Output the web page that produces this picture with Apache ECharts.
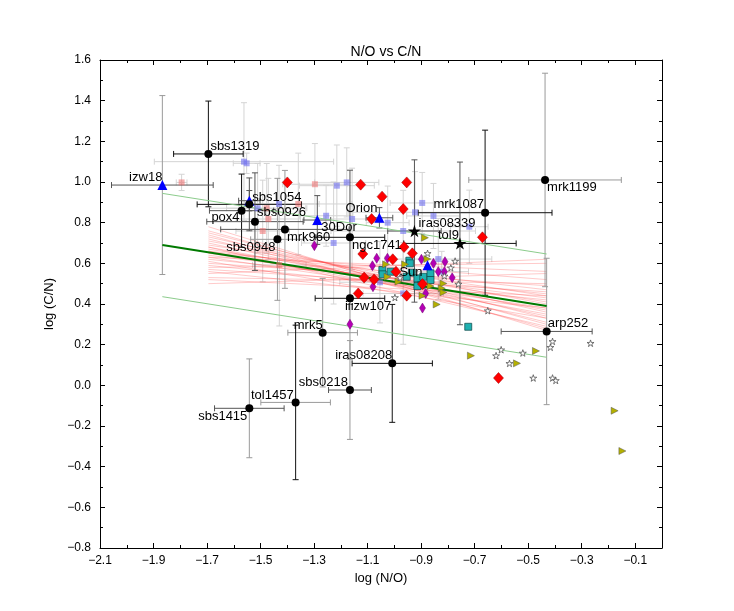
<!DOCTYPE html>
<html>
<head>
<meta charset="utf-8">
<title>N/O vs C/N</title>
<script src="https://cdn.jsdelivr.net/npm/echarts@6/dist/echarts.min.js"></script>
<style>
    html, body { margin: 0; padding: 0; background: #fff; }
    #chart { width: 734px; height: 611px; }
</style>
</head>
<body>
<div id="chart"></div>
<script>
// axis ticks
var xTicks = [-2.1, -1.9, -1.7, -1.5, -1.3, -1.1, -0.9, -0.7, -0.5, -0.3, -0.1];
var xMax = 0.0;
var yTicks = [-0.8, -0.6, -0.4, -0.2, 0.0, 0.2, 0.4, 0.6, 0.8, 1.0, 1.2, 1.4, 1.6];

// named galaxies (black dots)
var galName = ['sbs1319', 'sbs1054', 'pox4', 'sbs0926', 'mrk960', 'sbs0948', 'ngc1741', 'iiizw107',
    'mrk5', 'iras08208', 'sbs0218', 'tol1457', 'sbs1415', 'mrk1199', 'mrk1087', 'arp252'];
var galNO = [-1.695, -1.542, -1.571, -1.521, -1.409, -1.437, -1.166, -1.166,
    -1.268, -1.008, -1.166, -1.369, -1.542, -0.437, -0.661, -0.431];
var galCN = [1.138, 0.890, 0.859, 0.805, 0.767, 0.718, 0.728, 0.428,
    0.259, 0.108, -0.023, -0.084, -0.113, 1.010, 0.849, 0.265];
var galNOErr = [0.13, 0.195, 0.12, 0.18, 0.24, 0.10, 0.13, 0.13,
    0.13, 0.15, 0.08, 0.13, 0.13, 0.285, 0.25, 0.17];
var galCNErr = [0.26, 0.13, 0.18, 0.24, 0.29, 0.30, 0.33, 0.30,
    0.267, 0.29, 0.243, 0.38, 0.243, 0.525, 0.406, 0.36];

// blue triangles
var triName = ['izw18', 'izw18b', '30Dor', 'Orion', 'Sun'];
var triNO = [-1.867, -1.542, -1.288, -1.056, -0.876];
var triCN = [0.985, 0.908, 0.813, 0.824, 0.590];
var triNOErr = [0.19, 0.04, 0.05, 0.05, 0];
var triCNErr = [0.44, 0.05, 0.12, 0.05, 0];

// black stars
var starName = ['iras08339', 'tol9'];
var starNO = [-0.925, -0.755];
var starCN = [0.759, 0.698];
var starNOErr = [0.10, 0.21];
var starCNErr = [0.35, 0.40];

// light blue squares
var blueSqNO = [-1.562, -1.552, -1.215, -1.178, -1.431, -1.511, -1.255, -1.158, -0.896, -0.923,
    -0.854, -1.025, -0.967, -1.227, -1.054, -0.836, -0.720, -0.823, -0.967];
var blueSqCN = [1.100, 1.092, 0.982, 0.998, 0.892, 0.871, 0.834, 0.818, 0.897, 0.851,
    0.833, 0.800, 0.759, 0.700, 0.507, 0.621, 0.780, 0.559, 0.452];
var blueSqNOErr = [0.335, 0.05, 0.14, 0.12, 0.15, 0.18, 0.10, 0.10, 0.12, 0.25,
    0.10, 0.08, 0.27, 0.12, 0.15, 0.20, 0.07, 0.10, 0.15];
var blueSqCNErr = [0.29, 0.05, 0.20, 0.17, 0.19, 0.22, 0.15, 0.25, 0.15, 0.20,
    0.16, 0.18, 0.20, 0.30, 0.20, 0.20, 0.18, 0.10, 0.25];

// light red squares
var redSqNO = [-1.795, -1.297, -1.359, -1.477, -1.471, -1.492, -1.430];
var redSqCN = [0.998, 0.989, 0.892, 0.871, 0.818, 0.759, 0.592];
var redSqNOErr = [0.02, 0.12, 0.20, 0.15, 0.12, 0.10, 0.10];
var redSqCNErr = [0.04, 0.20, 0.25, 0.22, 0.20, 0.25, 0.30];

// red diamonds
var redDiaNO = [-1.400, -1.126, -1.046, -1.085, -0.954, -0.967, -0.671, -1.118, -0.964, -0.933,
    -1.006, -0.994, -1.113, -1.076, -1.135, -0.954, -0.895, -0.611];
var redDiaCN = [0.998, 0.987, 0.928, 0.818, 0.998, 0.867, 0.728, 0.646, 0.680, 0.649,
    0.620, 0.559, 0.530, 0.521, 0.452, 0.441, 0.498, 0.036];

// purple diamonds
var purDiaNO = [-1.299, -1.066, -1.026, -1.082, -1.080, -0.899, -1.166, -0.854, -0.811, -0.836,
    -0.813, -0.784, -0.883, -0.895];
var purDiaCN = [0.687, 0.625, 0.625, 0.588, 0.485, 0.620, 0.300, 0.600, 0.608, 0.559,
    0.559, 0.529, 0.452, 0.380];

// teal squares
var tealNO = [-1.045, -1.044, -1.014, -0.944, -0.942, -0.935, -0.954, -0.914, -0.900, -0.914,
    -0.892, -0.865, -0.865, -0.724];
var tealCN = [0.567, 0.546, 0.559, 0.613, 0.600, 0.554, 0.534, 0.526, 0.493, 0.488,
    0.534, 0.551, 0.518, 0.288];

// yellow triangles
var yelNO = [-1.031, -1.026, -0.985, -0.886, -0.877, -0.960, -0.865, -0.817, -0.823, -0.817,
    -0.895, -0.842, -0.714, -0.471, -0.542, -0.177, -0.148];
var yelCN = [0.595, 0.534, 0.510, 0.726, 0.621, 0.595, 0.488, 0.501, 0.477, 0.457,
    0.441, 0.398, 0.146, 0.169, 0.108, -0.125, -0.323];

// open stars
var wStarNO = [-0.979, -0.998, -0.773, -0.789, -0.813, -0.761, -0.651, -0.876, -0.409, -0.417,
    -0.267, -0.601, -0.620, -0.520, -0.570, -0.481, -0.409, -0.397];
var wStarCN = [0.529, 0.432, 0.611, 0.578, 0.538, 0.498, 0.367, 0.649, 0.216, 0.187,
    0.207, 0.175, 0.146, 0.159, 0.108, 0.036, 0.036, 0.024];

// fits
var fitNO = [-1.867, -0.431];
var fitCN = [0.690, 0.390];
var fitUpCN = [0.944, 0.646];
var fitLowCN = [0.436, 0.138];

// bootstrap fits
var bootNO = [-1.695, -0.431];
var bootLeftCN = [0.78, 0.76, 0.75, 0.74, 0.73, 0.72, 0.71, 0.70, 0.69, 0.68, 0.68, 0.67, 0.66, 0.66, 0.65,
    0.65, 0.64, 0.63, 0.63, 0.62, 0.61, 0.60, 0.59, 0.58, 0.57, 0.56, 0.55, 0.53, 0.52, 0.50];
var bootRightCN = [0.27, 0.30, 0.33, 0.28, 0.36, 0.31, 0.40, 0.34, 0.44, 0.37, 0.29, 0.41, 0.47, 0.35, 0.39,
    0.52, 0.43, 0.38, 0.56, 0.45, 0.33, 0.49, 0.42, 0.60, 0.46, 0.38, 0.62, 0.50, 0.44, 0.55];

// ---- styles ----
var FONT = '"Liberation Sans", Arial, Helvetica, sans-serif';
var tones = { k: '#111', d: '#555', g: '#9a9a9a' };
var barTone = {
    sbs1319: 'kk', izw18: 'dg', izw18b: 'dd', sbs1054: 'kd', pox4: 'dk', sbs0926: 'dd', mrk960: 'dg',
    sbs0948: 'gg', '30Dor': 'dd', Orion: 'dd', ngc1741: 'kd', iiizw107: 'kg', mrk5: 'gg',
    iras08208: 'kk', sbs0218: 'dg', tol1457: 'gk', sbs1415: 'dg', mrk1199: 'gg', mrk1087: 'kk',
    arp252: 'dg', iras08339: 'dd', tol9: 'kd', Sun: 'dd'
};
// [align, dx, dy]
var labelPlace = {
    sbs1319: ['left', 2, -8], izw18: ['right', 0, -8], sbs1054: ['left', 3, -7], pox4: ['right', -2, 7],
    sbs0926: ['left', 2, -9], '30Dor': ['left', 4, 7], mrk960: ['left', 2, 8], Orion: ['right', -2, -9],
    sbs0948: ['right', -2, 8], ngc1741: ['left', 2, 8], mrk1087: ['right', -1, -8], mrk1199: ['left', 2, 7],
    iras08339: ['left', 4, -8], tol9: ['right', -1, -8], iiizw107: ['left', -5, 8], mrk5: ['right', 0, -7],
    iras08208: ['right', 0, -8], sbs0218: ['right', -2, -8], tol1457: ['right', -2, -7],
    sbs1415: ['right', -2, 8], arp252: ['left', 1, -8], Sun: ['right', -5, 7]
};
var starPath = 'path://M50,0 L61,35 L98,35 L68,57 L79,91 L50,70 L21,91 L32,57 L2,35 L39,35 Z';
var diamondPath = 'path://M50,0 L100,50 L50,100 L0,50 Z';

function pairs(xs, ys) {
    return xs.map(function (x, i) { return [x, ys[i]]; });
}
function named(names, xs, ys) {
    return names.map(function (n, i) {
        var item = { name: n, value: [xs[i], ys[i]] };
        var p = labelPlace[n];
        if (p) {
            item.label = {
                show: true, formatter: n, position: 'inside', align: p[0], verticalAlign: 'middle',
                offset: [p[1], p[2]], color: '#000', fontSize: 13, fontFamily: FONT,
                textBorderWidth: 0, textShadowBlur: 0
            };
        }
        return item;
    });
}

// error bar lists
var lightErr = [];
blueSqNO.forEach(function (x, i) { lightErr.push([x, blueSqCN[i], blueSqNOErr[i], blueSqCNErr[i]]); });
redSqNO.forEach(function (x, i) { lightErr.push([x, redSqCN[i], redSqNOErr[i], redSqCNErr[i]]); });

var mainErr = [], mainTone = [];
function addErr(names, xs, ys, xe, ye) {
    names.forEach(function (n, i) {
        mainErr.push([xs[i], ys[i], xe[i], ye[i]]);
        mainTone.push(barTone[n] || 'dd');
    });
}
addErr(galName, galNO, galCN, galNOErr, galCNErr);
addErr(triName, triNO, triCN, triNOErr, triCNErr);
addErr(starName, starNO, starCN, starNOErr, starCNErr);

function errRenderer(colorOf) {
    return function (params, api) {
        var x = api.value(0), y = api.value(1), xe = api.value(2), ye = api.value(3);
        var cx = colorOf(params.dataIndex, 0), cy = colorOf(params.dataIndex, 1);
        var cap = 3, kids = [];
        function seg(a, b, c, d, col) {
            kids.push({ type: 'line', shape: { x1: a, y1: b, x2: c, y2: d }, style: { stroke: col, lineWidth: 1 } });
        }
        if (xe > 0) {
            var L = api.coord([x - xe, y]), R = api.coord([x + xe, y]);
            seg(L[0], L[1], R[0], R[1], cx);
            seg(L[0], L[1] - cap, L[0], L[1] + cap, cx);
            seg(R[0], R[1] - cap, R[0], R[1] + cap, cx);
        }
        if (ye > 0) {
            var T = api.coord([x, y + ye]), B = api.coord([x, y - ye]);
            seg(T[0], T[1], B[0], B[1], cy);
            seg(T[0] - cap, T[1], T[0] + cap, T[1], cy);
            seg(B[0] - cap, B[1], B[0] + cap, B[1], cy);
        }
        return { type: 'group', children: kids };
    };
}

var bootLines = bootLeftCN.map(function (v, i) {
    return { coords: [[bootNO[0], v], [bootNO[1], bootRightCN[i]]] };
});

var fmt = function (v) {
    var s = Math.abs(v) < 1e-9 ? '0.0' : (+v).toFixed(1);
    return s.replace('-', '\u2212');
};

function axisCommon() {
    return {
        axisLine: { onZero: false, lineStyle: { color: '#000', width: 1 } },
        axisTick: { inside: true, length: 5, lineStyle: { color: '#000' } },
        minorTick: { show: true, splitNumber: 2, length: 3, lineStyle: { color: '#000' } },
        splitLine: { show: false },
        minorSplitLine: { show: false }
    };
}

function dots(extra) {
    return Object.assign({ type: 'scatter', z: 6 }, extra);
}

var chart = echarts.init(document.getElementById('chart'));
var option = {
    animation: false,
    backgroundColor: '#fff',
    title: {
        text: 'N/O vs C/N', left: 381, top: 40, textAlign: 'center',
        textStyle: { fontSize: 14, fontWeight: 'normal', color: '#000', fontFamily: FONT }
    },
    grid: { left: 100, right: 72, top: 60, bottom: 63 },
    xAxis: [
        Object.assign(axisCommon(), {
            type: 'value', min: xTicks[0], max: xMax, interval: 0.2,
            name: 'log (N/O)', nameLocation: 'middle', nameGap: 23,
            nameTextStyle: { fontSize: 13, color: '#000', fontFamily: FONT },
            axisLabel: { formatter: fmt, showMaxLabel: false, color: '#000', fontSize: 12, fontFamily: FONT, margin: 7 }
        }),
        Object.assign(axisCommon(), {
            type: 'value', position: 'top', min: xTicks[0], max: xMax, interval: 0.2,
            axisLabel: { show: false }
        })
    ],
    yAxis: [
        Object.assign(axisCommon(), {
            type: 'value', min: yTicks[0], max: yTicks[yTicks.length - 1], interval: 0.2,
            name: 'log (C/N)', nameLocation: 'middle', nameGap: 32,
            nameTextStyle: { fontSize: 13, color: '#000', fontFamily: FONT },
            axisLabel: { formatter: fmt, color: '#000', fontSize: 12, fontFamily: FONT, margin: 9 }
        }),
        Object.assign(axisCommon(), {
            type: 'value', position: 'right', min: yTicks[0], max: yTicks[yTicks.length - 1], interval: 0.2,
            axisLabel: { show: false }
        })
    ],
    series: [
        {
            type: 'custom', name: 'sample errors', z: 1, silent: true,
            renderItem: errRenderer(function () { return '#d4d4d4'; }),
            encode: { x: 0, y: 1 }, data: lightErr
        },
        {
            type: 'lines', coordinateSystem: 'cartesian2d', z: 2, silent: true,
            lineStyle: { color: 'rgba(255,50,50,0.26)', width: 1, opacity: 1 },
            data: bootLines
        },
        {
            type: 'custom', name: 'galaxy errors', z: 3, silent: true,
            renderItem: errRenderer(function (i, k) { return tones[mainTone[i].charAt(k)]; }),
            encode: { x: 0, y: 1 }, data: mainErr
        },
        {
            type: 'line', z: 4, showSymbol: false, silent: true,
            lineStyle: { color: '#8ccc8c', width: 1 }, data: pairs(fitNO, fitUpCN)
        },
        {
            type: 'line', z: 4, showSymbol: false, silent: true,
            lineStyle: { color: '#8ccc8c', width: 1 }, data: pairs(fitNO, fitLowCN)
        },
        {
            type: 'line', z: 4, showSymbol: false, silent: true,
            lineStyle: { color: '#007a00', width: 2 }, data: pairs(fitNO, fitCN)
        },
        dots({
            z: 5, symbol: 'rect', symbolSize: 6,
            itemStyle: { color: 'rgba(110,110,240,0.6)', opacity: 1 }, data: pairs(blueSqNO, blueSqCN)
        }),
        dots({
            z: 5, symbol: 'rect', symbolSize: 6,
            itemStyle: { color: 'rgba(240,110,110,0.55)', opacity: 1 }, data: pairs(redSqNO, redSqCN)
        }),
        dots({
            symbol: diamondPath, symbolSize: [6, 10],
            itemStyle: { color: '#b400b4', borderColor: '#700070', borderWidth: 0.5, opacity: 1 },
            data: pairs(purDiaNO, purDiaCN)
        }),
        dots({
            symbol: 'rect', symbolSize: 7,
            itemStyle: { color: '#1fb0b0', borderColor: '#0a4545', borderWidth: 0.7, opacity: 1 },
            data: pairs(tealNO, tealCN)
        }),
        dots({
            symbol: 'triangle', symbolSize: 7, symbolRotate: -90,
            itemStyle: { color: '#b4b000', borderColor: '#555', borderWidth: 0.5, opacity: 1 },
            data: pairs(yelNO, yelCN)
        }),
        dots({
            symbol: starPath, symbolSize: 7, symbolKeepAspect: true,
            itemStyle: { color: '#fff', borderColor: '#555', borderWidth: 0.8, opacity: 1 },
            data: pairs(wStarNO, wStarCN)
        }),
        dots({
            z: 7, symbol: diamondPath, symbolSize: [10, 11],
            itemStyle: { color: '#ff0000', borderColor: '#990000', borderWidth: 0.5, opacity: 1 },
            data: pairs(redDiaNO, redDiaCN)
        }),
        dots({
            z: 8, symbol: 'triangle', symbolSize: 10,
            itemStyle: { color: '#0000ff', opacity: 1 }, data: named(triName, triNO, triCN)
        }),
        dots({
            z: 8, symbol: starPath, symbolSize: 13, symbolKeepAspect: true,
            itemStyle: { color: '#000', opacity: 1 }, data: named(starName, starNO, starCN)
        }),
        dots({
            z: 9, symbol: 'circle', symbolSize: 8,
            itemStyle: { color: '#000', opacity: 1 }, data: named(galName, galNO, galCN)
        })
    ]
};
chart.setOption(option);
</script>
</body>
</html>
